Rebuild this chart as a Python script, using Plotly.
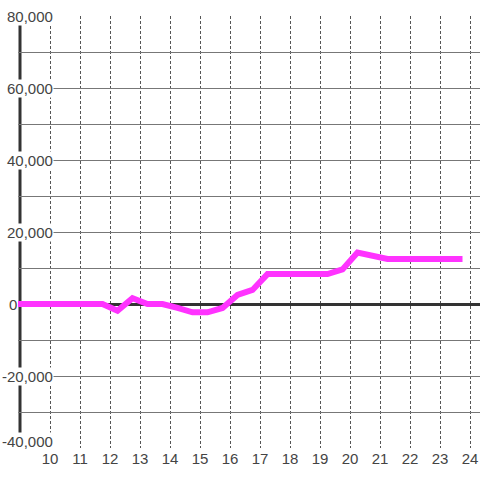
import plotly.graph_objects as go

# Data
hours = [8.75, 11.75, 12.25, 12.75, 13.25, 13.75, 14.25, 14.75, 15.25, 15.75,
         16.25, 16.75, 17.25, 19.25, 19.75, 20.25, 21.25, 23.75]
values = [0, 0, -1900, 1600, 0, 0, -1100, -2300, -2300, -1100,
          2500, 3900, 8300, 8300, 9600, 14300, 12500, 12500]
x_tick_vals = list(range(10, 25))
x_tick_text = [str(v) for v in x_tick_vals]
y_tick_vals = [-40000, -20000, 0, 20000, 40000, 60000, 80000]
y_tick_text = ["-40,000", "-20,000", "0", "20,000", "40,000", "60,000", "80,000"]

W, H = 480, 480
L, R, T, B = 18, 0, 16, 32
PW = W - L - R
PX_PER_UNIT = 30.0
x0 = 10 - (50 - L) / PX_PER_UNIT
x1 = x0 + PW / PX_PER_UNIT
AXIS_PX = 20

FONT = "Liberation Sans, Arial, sans-serif"
FS = 15

fig = go.Figure()
fig.add_trace(go.Scatter(
    x=hours, y=values, mode="lines",
    line=dict(color="#ff33ff", width=6),
    hoverinfo="skip", showlegend=False,
))

# y axis line drawn beneath the trace
fig.add_shape(
    type="line", xref="paper", yref="y",
    x0=(AXIS_PX - L) / PW, x1=(AXIS_PX - L) / PW,
    y0=y_tick_vals[0], y1=y_tick_vals[-1],
    line=dict(color="#333", width=3), layer="below",
)

annotations = []
for v, t in zip(y_tick_vals, y_tick_text):
    right_px = 18 if v == 0 else 54
    annotations.append(dict(
        xref="paper", yref="y", x=(right_px - L) / PW, y=v,
        text=t, showarrow=False, xanchor="right", yanchor="middle",
        yshift=7 if v == y_tick_vals[0] else 0,
        font=dict(family=FONT, size=FS, color="#444"),
        bgcolor="white", borderpad=0,
    ))

fig.update_layout(
    width=W, height=H,
    margin=dict(l=L, r=R, t=T, b=B, pad=0),
    paper_bgcolor="white", plot_bgcolor="white",
    font=dict(family=FONT, size=FS, color="#444"),
    annotations=annotations,
    xaxis=dict(
        range=[x0, x1], tickmode="array", tickvals=x_tick_vals, ticktext=x_tick_text,
        showgrid=True, gridcolor="#555", gridwidth=1, griddash="3px,2px",
        zeroline=False, showline=False, ticks="",
        tickfont=dict(family=FONT, size=FS, color="#444"),
    ),
    yaxis=dict(
        range=[-40000, 80000], dtick=10000, tick0=0,
        showticklabels=False, ticks="",
        showgrid=True, gridcolor="#777", gridwidth=1,
        zeroline=True, zerolinecolor="#333", zerolinewidth=3,
        showline=False,
    ),
)

fig.write_html(
    "out.html",
    config={"displayModeBar": False},
    post_script="document.body.style.margin='0';document.body.style.overflow='hidden';",
)
